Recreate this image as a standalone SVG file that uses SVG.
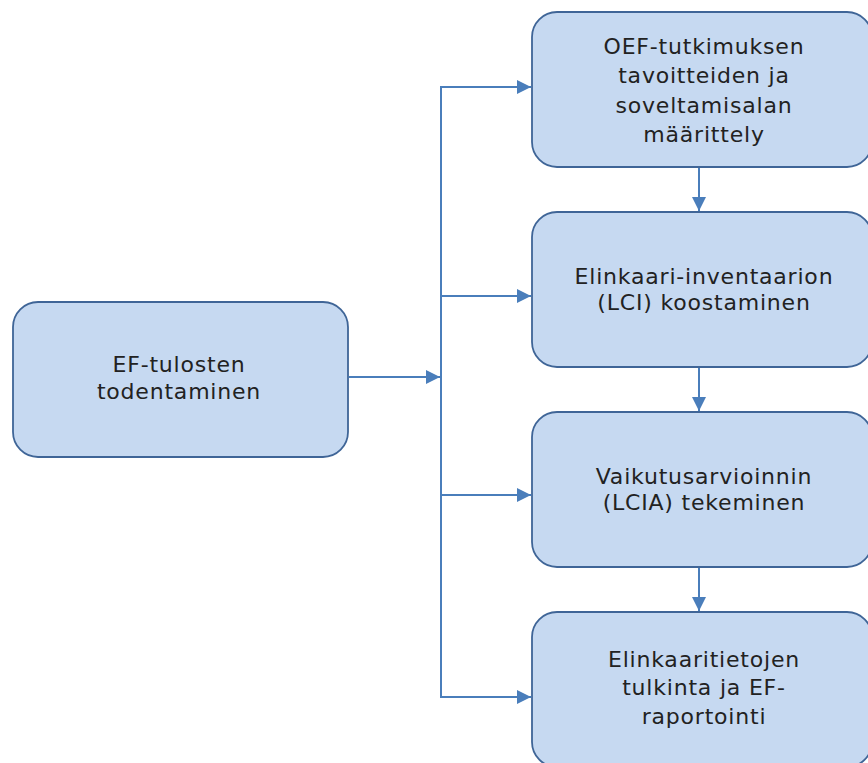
<svg xmlns="http://www.w3.org/2000/svg" width="868" height="763" viewBox="0 0 868 763">
  <defs>
    <marker id="arrow" markerUnits="userSpaceOnUse" markerWidth="14" markerHeight="14" refX="14" refY="7" orient="auto">
      <path d="M0,0 L14,7 L0,14 Z" fill="#4A7EBB"/>
    </marker>
    <style>
      .box { fill: #C6D9F1; stroke: #3F6597; stroke-width: 1.8; }
      .lbl { font-family: "DejaVu Sans", Verdana, sans-serif; font-size: 22px; letter-spacing: 0.8px; fill: #222222; text-anchor: middle; }
      .wire { fill: none; stroke: #4A7EBB; stroke-width: 2; }
      .arr { fill: none; stroke: #4A7EBB; stroke-width: 2; marker-end: url(#arrow); }
    </style>
  </defs>
  <rect width="868" height="763" fill="#FFFFFF"/>

  <g id="connectors">
    <!-- feed from the verification step into the trunk -->
    <line class="arr" x1="349" y1="377" x2="440" y2="377"/>
    <!-- vertical trunk -->
    <line class="wire" x1="441" y1="86" x2="441" y2="698"/>
    <!-- branches to each phase -->
    <line class="arr" x1="441" y1="87" x2="531" y2="87"/>
    <line class="arr" x1="441" y1="296" x2="531" y2="296"/>
    <line class="arr" x1="441" y1="495" x2="531" y2="495"/>
    <line class="arr" x1="441" y1="697" x2="531" y2="697"/>
    <!-- sequence between phases -->
    <line class="arr" x1="699" y1="167" x2="699" y2="211"/>
    <line class="arr" x1="699" y1="367" x2="699" y2="411"/>
    <line class="arr" x1="699" y1="567" x2="699" y2="611"/>
  </g>

  <g id="node-verify">
    <rect class="box" x="13" y="302" width="335" height="155" rx="25" ry="25"/>
    <text class="lbl" x="179" y="371.5">EF-tulosten</text>
    <text class="lbl" x="179" y="398.5">todentaminen</text>
  </g>

  <g id="node-goal">
    <rect class="box" x="532" y="12" width="340" height="155" rx="25" ry="25"/>
    <text class="lbl" x="704" y="53.5">OEF-tutkimuksen</text>
    <text class="lbl" x="704" y="83">tavoitteiden ja</text>
    <text class="lbl" x="704" y="112.5">soveltamisalan</text>
    <text class="lbl" x="704" y="142">määrittely</text>
  </g>

  <g id="node-lci">
    <rect class="box" x="532" y="212" width="340" height="155" rx="25" ry="25"/>
    <text class="lbl" x="704" y="283.5">Elinkaari-inventaarion</text>
    <text class="lbl" x="704" y="310">(LCI) koostaminen</text>
  </g>

  <g id="node-lcia">
    <rect class="box" x="532" y="412" width="340" height="155" rx="25" ry="25"/>
    <text class="lbl" x="704" y="483.5">Vaikutusarvioinnin</text>
    <text class="lbl" x="704" y="510">(LCIA) tekeminen</text>
  </g>

  <g id="node-interpret">
    <rect class="box" x="532" y="612" width="340" height="155" rx="25" ry="25"/>
    <text class="lbl" x="704" y="666.5">Elinkaaritietojen</text>
    <text class="lbl" x="704" y="695">tulkinta ja EF-</text>
    <text class="lbl" x="704" y="723.5">raportointi</text>
  </g>
</svg>
